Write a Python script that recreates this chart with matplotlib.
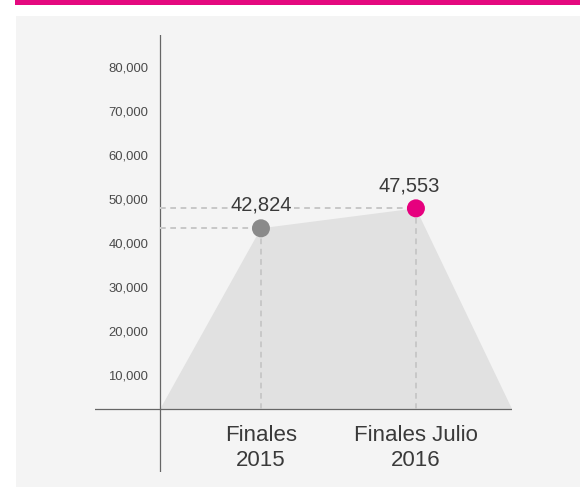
import matplotlib
matplotlib.use('Agg')
import matplotlib.pyplot as plt
from matplotlib.patches import Rectangle

# data
categories = ["Finales\n2015", "Finales Julio\n2016"]
cat_x = [1, 2]
values = [42824, 47553]
point_colors = ['#8a8a8a', '#e6007e']
area_start, area_end = 0.35, 2.62
tick_vals = [10000, 20000, 30000, 40000, 50000, 60000, 70000, 80000]

W, H, DPI = 580, 487, 100
PX = 72 / DPI  # points per pixel

plt.rcParams['font.family'] = ['Liberation Sans', 'DejaVu Sans']

fig = plt.figure(figsize=(W / DPI, H / DPI), dpi=DPI, facecolor='white')

# page decoration: magenta top bar and grey panel (behind the axes)
fig.patches.append(Rectangle((15 / W, 1 - 5 / H), 1, 5 / H, transform=fig.transFigure,
                             facecolor='#e4097f', edgecolor='none', zorder=-10))
fig.patches.append(Rectangle((16 / W, 0), 1, 1 - 16 / H, transform=fig.transFigure,
                             facecolor='#f4f4f4', edgecolor='none', zorder=-10))

# axes box: x 95..512 px, y 35..472 px (from top)
ax = fig.add_axes([95 / W, 1 - 472 / H, (512 - 95) / W, (472 - 35) / H])
ax.set_facecolor('none')
ax.set_xlim(-0.071, 2.62)
ax.set_ylim(-14930, 88630)
for s in ax.spines.values():
    s.set_visible(False)
ax.set_xticks([])
ax.set_yticks([])

# shaded area
ax.fill([area_start, cat_x[0], cat_x[1], area_end], [0, values[0], values[1], 0],
        color='#e1e1e1', lw=0, zorder=1)

# axis lines
ax.axhline(0, color='#666666', lw=0.9, zorder=2)
ax.axvline(area_start, color='#666666', lw=0.9, zorder=2)

# dashed guides
dash = (0, (2.85, 2.3))
for x, v in zip(cat_x, values):
    ax.plot([area_start, x], [v, v], color='#c8c8c8', lw=1.44, ls=dash, zorder=3)
    ax.plot([x, x], [0, v], color='#c8c8c8', lw=1.44, ls=dash, zorder=3)

# points
ax.scatter(cat_x, values, s=168, c=point_colors, lw=0, zorder=5)

# value labels
offsets = [(0, 23), (-6.5, 22)]
for x, v, (dx, dy) in zip(cat_x, values, offsets):
    ax.annotate(f"{v:,}", (x, v), xytext=(dx * PX, dy * PX), textcoords='offset points',
                ha='center', va='center', fontsize=14.5, color='#3a3a3a', zorder=6,
                bbox=dict(boxstyle='square,pad=0.1', fc='#f4f4f4', ec='none'))

# category labels under baseline
for x, c in zip(cat_x, categories):
    ax.annotate(c, (x, 0), xytext=(0, -16 * PX), textcoords='offset points',
                ha='center', va='top', fontsize=16, color='#3a3a3a', linespacing=1.28)

# y tick labels (the printed scale sits slightly off the data scale)
def to_tick(v):
    return 2341 + 0.959 * v

def from_tick(t):
    return (t - 2341) / 0.959

loc = (area_start - ax.get_xlim()[0]) / (ax.get_xlim()[1] - ax.get_xlim()[0])
sec = ax.secondary_yaxis(loc, functions=(to_tick, from_tick))
sec.set_yticks(tick_vals, [f"{t:,}" for t in tick_vals])
sec.tick_params(length=0, pad=12 * PX, labelsize=9.4, labelcolor='#4a4a4a')
for s in sec.spines.values():
    s.set_visible(False)

fig.savefig('out.png', dpi=DPI)
